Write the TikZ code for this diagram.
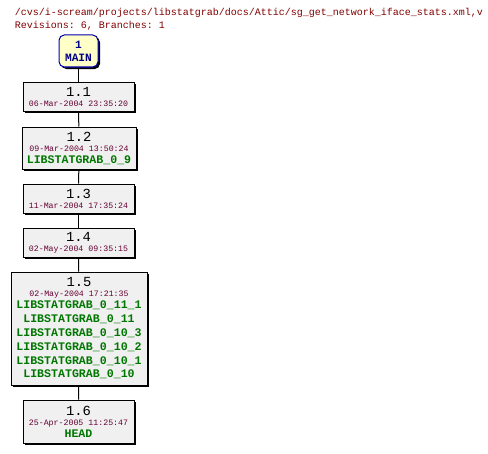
\documentclass[tikz,border=0pt]{standalone}
\usepackage{fontspec}
\setmonofont{Liberation Mono}
\usetikzlibrary{shadows}

\definecolor{hdrred}{HTML}{800000}
\definecolor{datered}{HTML}{660033}
\definecolor{taggreen}{HTML}{007700}
\definecolor{revgray}{HTML}{F0F0F0}
\definecolor{mainyellow}{HTML}{FFFFC8}
\definecolor{mainblue}{HTML}{0000AA}
\definecolor{mainnavy}{HTML}{000088}

\newcommand\revno[1]{{\fontsize{10.4}{10.35}\selectfont #1}}
\newcommand\revdate[1]{{\color{datered}\fontsize{6.2}{10.35}\selectfont #1}}
\newcommand\revtag[1]{{\color{taggreen}\bfseries #1}}

\begin{document}
\begin{tikzpicture}[x=0.75pt, y=-0.75pt, line width=0.75pt,
    rev/.style={draw=black, fill=revgray, align=center, inner sep=0pt,
      minimum width=83.25pt, font=\ttfamily\fontsize{8.7}{10.35}\selectfont,
      drop shadow={shadow xshift=1.5pt, shadow yshift=-1.5pt, fill=black, opacity=1}},
    trunk/.style={rev, draw=mainblue, fill=mainyellow, text=mainnavy,
      rounded corners=4pt, minimum width=29.25pt, minimum height=24pt,
      font=\ttfamily\bfseries\fontsize{8.4}{9.75}\selectfont}]
    \useasboundingbox (0,0) rectangle (488,453);

    \node[anchor=base west, align=left, text=hdrred,
      font=\ttfamily\fontsize{7.5}{9.4}\selectfont] (title) at (10,28.5)
      {/cvs/i-scream/projects/libstatgrab/docs/Attic/sg\_get\_network\_iface\_stats.xml,v\\
       Revisions: 6, Branches: 1};

    \node[trunk] (main) at (78.5,51) {1\\MAIN};
    \node[rev, minimum height=21.75pt] (r11) at (78.5,96.5)
      {\revno{1.1}\\[-2.85pt]\revdate{06-Mar-2004 23:35:20}};
    \node[rev, minimum width=85.5pt, minimum height=31.5pt] (r12) at (79,148)
      {\revno{1.2}\\[-2.85pt]\revdate{09-Mar-2004 13:50:24}\\[-1.35pt]\revtag{LIBSTATGRAB\_0\_9}};
    \node[rev, minimum height=21.75pt] (r13) at (78.5,198.5)
      {\revno{1.3}\\[-2.85pt]\revdate{11-Mar-2004 17:35:24}};
    \node[rev, minimum height=21.75pt] (r14) at (78.5,242.5)
      {\revno{1.4}\\[-2.85pt]\revdate{02-May-2004 09:35:15}};
    \node[rev, minimum width=102pt, minimum height=84.75pt] (r15) at (79,328.5)
      {\revno{1.5}\\[-2.85pt]\revdate{02-May-2004 17:21:35}\\[-1.35pt]%
       \revtag{LIBSTATGRAB\_0\_11\_1}\\\revtag{LIBSTATGRAB\_0\_11}\\%
       \revtag{LIBSTATGRAB\_0\_10\_3}\\\revtag{LIBSTATGRAB\_0\_10\_2}\\%
       \revtag{LIBSTATGRAB\_0\_10\_1}\\\revtag{LIBSTATGRAB\_0\_10}};
    \node[rev, minimum height=32.25pt] (r16) at (78.5,421.5)
      {\revno{1.6}\\[-2.85pt]\revdate{25-Apr-2005 11:25:47}\\[-1.35pt]\revtag{HEAD}};

    \draw (main) -- (r11);
    \draw (r11) -- (r12);
    \draw (r12) -- (r13);
    \draw (r13) -- (r14);
    \draw (r14) -- (r15);
    \draw (r15) -- (r16);
\end{tikzpicture}
\end{document}
